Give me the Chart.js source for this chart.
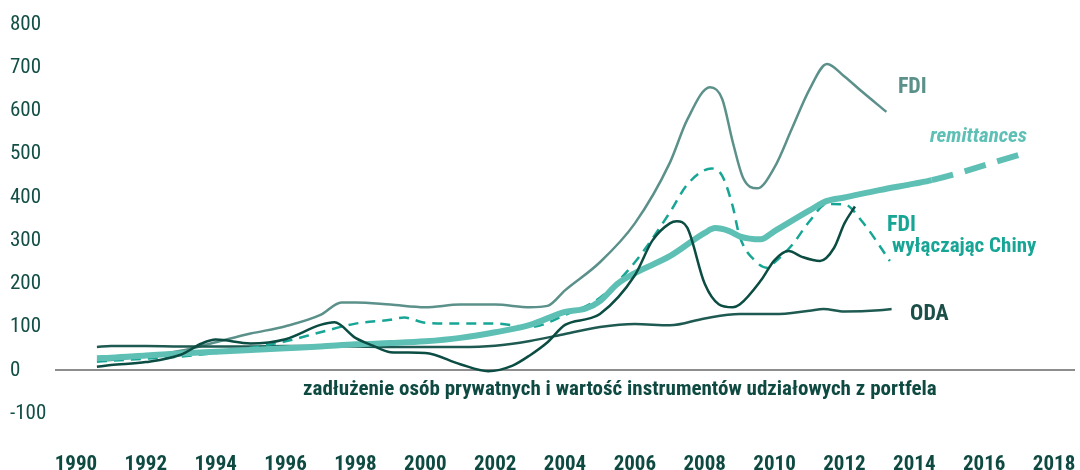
<!DOCTYPE html>
<html>
<head>
<meta charset="utf-8">
<script src="https://cdn.jsdelivr.net/npm/chart.js@4/dist/chart.umd.min.js"></script>
<style>
  html, body { margin: 0; padding: 0; background: #fff; }
  #wrap { width: 1080px; height: 470px; position: relative; }
</style>
</head>
<body>
<div id="wrap"><canvas id="flows-chart"></canvas></div>
<script>
// tick labels
const xTickYears = [1990, 1992, 1994, 1996, 1998, 2000, 2002, 2004, 2006, 2008, 2010, 2012, 2014, 2016, 2018];
const yTickValues = [-100, 0, 100, 200, 300, 400, 500, 600, 700, 800];

// FDI (total)
const fdiYears = [1990.6, 1991, 1992, 1993, 1994, 1995, 1996, 1997, 1997.6, 1998, 1999, 2000, 2001, 2002, 2003, 2003.5,
  2004, 2005, 2006, 2007, 2007.5, 2008.15, 2008.5, 2008.8, 2009.1, 2009.5, 2010, 2010.5, 2011, 2011.5, 2012, 2012.5, 2013.2];
const fdiValues = [23, 24, 33, 45, 65, 85, 102, 128, 157, 157, 152, 146, 152, 152, 146, 149,
  185, 250, 340, 480, 580, 655, 628, 529, 445, 421, 470, 560, 650, 709, 680, 645, 598];

// FDI excluding China
const fdiExChinaYears = [1990.6, 1991, 1992, 1993, 1994, 1995, 1996, 1997, 1998, 1999, 1999.4, 2000, 2001, 2002, 2003,
  2004, 2005, 2006, 2007, 2007.5, 2008.2, 2008.5, 2008.8, 2009, 2009.5, 2009.8, 2010, 2010.5, 2011, 2011.5, 2012, 2012.5, 2013.3];
const fdiExChinaValues = [20, 22, 27, 32, 40, 52, 67, 88, 108, 117, 122, 110, 108, 108, 100,
  128, 168, 250, 365, 430, 467, 450, 380, 310, 249, 237, 250, 290, 345, 385, 384, 345, 253];

// private debt + portfolio equity
const portfolioYears = [1990.6, 1991, 1992, 1993, 1993.6, 1994, 1995, 1996, 1997, 1997.4, 1998, 1998.5, 1999, 2000, 2001,
  2001.8, 2002.5, 2003, 2003.5, 2004, 2004.7, 2005, 2006, 2006.5, 2007, 2007.2, 2007.5, 2008, 2008.4, 2008.8, 2009,
  2009.6, 2010, 2010.4, 2010.8, 2011.3, 2011.7, 2012, 2012.3];
const portfolioValues = [8, 12, 19, 36, 62, 71, 62, 72, 105, 111, 75, 57, 42, 40, 14,
  -2, 11, 35, 65, 105, 120, 130, 220, 300, 340, 345, 330, 200, 153, 146, 152,
  207, 255, 276, 262, 253, 283, 340, 379];

// remittances (dashed after 2014.5 = forecast)
const remittanceYears = [1990.6, 1991, 1992, 1993, 1994, 1995, 1996, 1997, 1998, 1999, 2000, 2001, 2002, 2003, 2004,
  2004.6, 2005, 2005.5, 2006, 2007, 2008, 2008.3, 2008.7, 2009, 2009.6, 2010, 2011, 2011.5, 2012, 2013, 2014, 2014.5, 2017.3];
const remittanceValues = [28, 29, 34, 39, 43, 47, 51, 55, 60, 63, 67, 75, 88, 105, 135,
  143, 160, 200, 225, 264, 318, 329, 322, 310, 303, 322, 370, 392, 400, 417, 432, 440, 506];
const remittanceForecastFrom = 2014.5;

// ODA
const odaYears = [1990.6, 1991, 1992, 1993, 1994, 1995, 1996, 1997, 1998, 1999, 2000, 2001, 2002, 2003, 2004, 2005,
  2006, 2007, 2008, 2009, 2010, 2011, 2011.4, 2012, 2013, 2013.35];
const odaValues = [54, 56, 56, 55, 55, 55, 56, 56, 55, 54, 54, 54, 57, 68, 84, 100,
  107, 104, 120, 130, 130, 138, 142, 136, 139, 142];

// text labels next to the lines (x in years, y in values)
const seriesLabels = [
  { text: 'FDI', x: 2013.53, y: 655, color: '#5b918a', italic: false, size: 22 },
  { text: 'remittances', x: 2014.45, y: 540, color: '#5ec0b5', italic: true, size: 21 },
  { text: 'FDI', x: 2013.22, y: 336, color: '#17a595', italic: false, size: 22 },
  { text: 'wyłączając Chiny', x: 2013.36, y: 285, color: '#17a595', italic: false, size: 21 },
  { text: 'ODA', x: 2013.88, y: 129, color: '#1d4f49', italic: false, size: 22 },
  { text: 'zadłużenie osób prywatnych i wartość instrumentów udziałowych z portfela', x: 1996.5, y: -46, color: '#0e4a41', italic: false, size: 21 }
];

const FONT = "'Roboto Condensed', 'Open Sans Condensed', sans-serif";

function pts(xs, ys) {
  return xs.map((x, i) => ({ x: x, y: ys[i] }));
}

const labelPlugin = {
  id: 'seriesLabels',
  afterDatasetsDraw(chart) {
    const ctx = chart.ctx;
    const xs = chart.scales.x;
    const ys = chart.scales.y;
    ctx.save();
    ctx.textAlign = 'left';
    ctx.textBaseline = 'middle';
    seriesLabels.forEach(l => {
      ctx.font = (l.italic ? 'italic ' : '') + 'bold ' + l.size + 'px ' + FONT;
      ctx.fillStyle = l.color;
      ctx.fillText(l.text, xs.getPixelForValue(l.x), ys.getPixelForValue(l.y));
    });
    ctx.restore();
  }
};

const ctx = document.getElementById('flows-chart').getContext('2d');
new Chart(ctx, {
  type: 'line',
  data: {
    datasets: [
      {
        label: 'portfolio',
        data: pts(portfolioYears, portfolioValues),
        borderColor: '#0b4c43',
        borderWidth: 2.5
      },
      {
        label: 'remittances',
        data: pts(remittanceYears, remittanceValues),
        borderColor: '#5ec0b5',
        borderWidth: 6,
        segment: {
          borderDash: c => c.p0.parsed.x >= remittanceForecastFrom ? [22, 12] : undefined
        }
      },
      {
        label: 'FDI excl. China',
        data: pts(fdiExChinaYears, fdiExChinaValues),
        borderColor: '#17a595',
        borderWidth: 2.5,
        borderDash: [10, 7]
      },
      {
        label: 'ODA',
        data: pts(odaYears, odaValues),
        borderColor: '#1e5a52',
        borderWidth: 2.5
      },
      {
        label: 'FDI',
        data: pts(fdiYears, fdiValues),
        borderColor: '#5b918a',
        borderWidth: 2.5
      }
    ]
  },
  options: {
    responsive: true,
    maintainAspectRatio: false,
    animation: false,
    layout: { padding: { left: 10, right: 5, top: 22, bottom: 0 } },
    elements: {
      point: { radius: 0 },
      line: { cubicInterpolationMode: 'monotone', fill: false }
    },
    plugins: {
      legend: { display: false },
      tooltip: { enabled: false }
    },
    scales: {
      x: {
        type: 'linear',
        min: 1989.4,
        max: 2018.6,
        afterBuildTicks: axis => { axis.ticks = xTickYears.map(v => ({ value: v })); },
        afterFit: axis => {
          axis.height = 56.5;
          axis.paddingLeft = 0;
          axis.paddingRight = 0;
        },
        grid: { display: false },
        border: { display: false },
        ticks: {
          padding: 31,
          maxRotation: 0,
          autoSkip: false,
          color: '#0e4a41',
          font: { family: FONT, size: 21, weight: 'bold' },
          callback: v => String(v)
        }
      },
      y: {
        min: -100,
        max: 800,
        afterBuildTicks: axis => { axis.ticks = yTickValues.map(v => ({ value: v })); },
        afterFit: axis => { axis.width = 45; },
        border: { display: false },
        grid: {
          drawTicks: false,
          lineWidth: 2,
          color: c => c.tick && c.tick.value === 0 ? '#8d8d8d' : 'rgba(0,0,0,0)'
        },
        ticks: {
          crossAlign: 'far',
          padding: 12,
          color: '#124f46',
          font: { family: FONT, size: 21 }
        }
      }
    }
  },
  plugins: [labelPlugin]
});
</script>
</body>
</html>
